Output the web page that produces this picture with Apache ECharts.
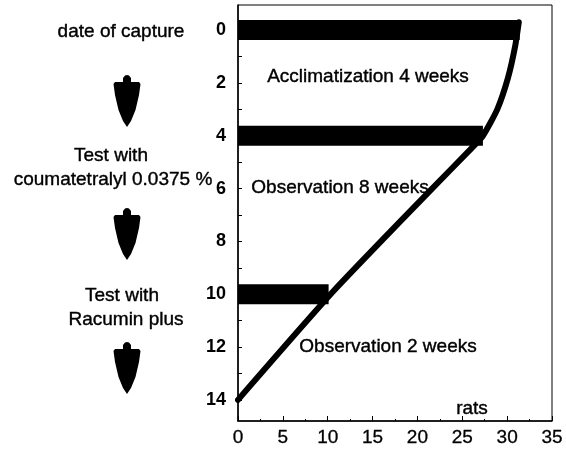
<!DOCTYPE html>
<html>
<head>
<meta charset="utf-8">
<script src="https://cdn.jsdelivr.net/npm/echarts@6/dist/echarts.min.js"></script>
<style>
  html, body { margin: 0; padding: 0; background: #fff; }
  #main { width: 566px; height: 449px; }
</style>
</head>
<body>
<div id="main"></div>
<script>
// weeks run down the y axis, number of rats along x
var weekLabels = [0, 2, 4, 6, 8, 10, 12, 14]
var weekTicks = [0, 1, 2, 3, 4, 5, 6, 7, 8, 9, 10, 11, 12, 13, 14]

// thick bars: week of event and rats alive then
var barWeeks = [0, 4, 10]
var barRats = [31.4, 27.3, 10.1]

// survival curve
var curveRats = [31.3, 30.9, 30.1, 28.9, 27.3, 26.1, 21.5, 10.6, 0]
var curveWeeks = [-0.3, 0.6, 1.8, 3.0, 4.0, 4.45, 6.05, 9.9, 14]

var chart = echarts.init(document.getElementById('main'), null, { renderer: 'canvas' })

var series = []
for (var i = 0; i < barWeeks.length; i++) {
  series.push({
    type: 'line',
    data: [[0, barWeeks[i]], [barRats[i], barWeeks[i]]],
    symbol: 'none',
    lineStyle: { color: '#000', width: 20, cap: 'butt' },
    z: 3
  })
}
var curve = []
for (var j = 0; j < curveRats.length; j++) {
  curve.push([curveRats[j], curveWeeks[j]])
}
series.push({
  type: 'line',
  data: curve,
  smooth: 0.2,
  symbol: 'none',
  lineStyle: { color: '#000', width: 6, cap: 'round', join: 'round' },
  z: 4
})

var font = '19px "Liberation Sans", Arial, sans-serif'
function txt(s, x, y) {
  return {
    type: 'text', x: x, y: y, z: 10,
    style: {
      text: s, font: font, fill: '#000', stroke: '#000', lineWidth: 0.4,
      align: 'center', verticalAlign: 'middle'
    }
  }
}
// down arrow with a little knob on top
var arrowShape = [[-4, 7], [-4, 3], [-2, 0.5], [0, 0], [2, 0.5], [4, 3], [4, 7], [12, 7],
  [13.5, 9], [12, 20], [8.5, 35], [4, 46], [0, 52], [-4, 46], [-8.5, 35], [-12, 20], [-13.5, 9], [-12, 7]]
function arrow(x, y) {
  return {
    type: 'polygon', x: x, y: y, z: 10,
    shape: { points: arrowShape },
    style: { fill: '#000' }
  }
}

var option = {
  animation: false,
  grid: {
    left: 238, right: 14, top: 5, bottom: 28,
    show: true, borderColor: '#000', borderWidth: 1
  },
  xAxis: {
    type: 'value',
    min: 0, max: 35, interval: 5,
    axisLine: { show: true, onZero: false, lineStyle: { color: '#000', width: 1.5 } },
    axisTick: { show: true, inside: true, length: 5, lineStyle: { color: '#000' } },
    minorTick: { show: true, splitNumber: 2, length: 2, lineStyle: { color: '#000' } },
    splitLine: { show: false },
    axisLabel: {
      color: '#000', fontSize: 19, margin: 7,
      textBorderColor: '#000', textBorderWidth: 0.3,
      fontFamily: '"Liberation Sans", Arial, sans-serif'
    }
  },
  yAxis: {
    type: 'value',
    inverse: true,
    min: -0.95, max: 14.8,
    axisLine: { show: true, onZero: false, lineStyle: { color: '#000', width: 1.5 } },
    axisTick: { show: true, inside: true, length: 4, customValues: weekTicks, lineStyle: { color: '#000' } },
    splitLine: { show: false },
    axisLabel: {
      color: '#000', fontSize: 18, fontWeight: 'bold', margin: 12,
      fontFamily: '"Liberation Sans", Arial, sans-serif',
      customValues: weekLabels
    }
  },
  graphic: [
    txt('date of capture', 121, 32),
    arrow(127, 75),
    txt('Test with', 111, 156),
    txt('coumatetralyl 0.0375 %', 113, 180),
    arrow(127, 208),
    txt('Test with', 122, 296),
    txt('Racumin plus', 126, 320),
    arrow(127, 342),
    txt('Acclimatization 4 weeks', 368, 77),
    txt('Observation 8 weeks', 340, 188),
    txt('Observation 2 weeks', 388, 347),
    txt('rats', 472, 409)
  ],
  series: series
}
chart.setOption(option)
</script>
</body>
</html>
